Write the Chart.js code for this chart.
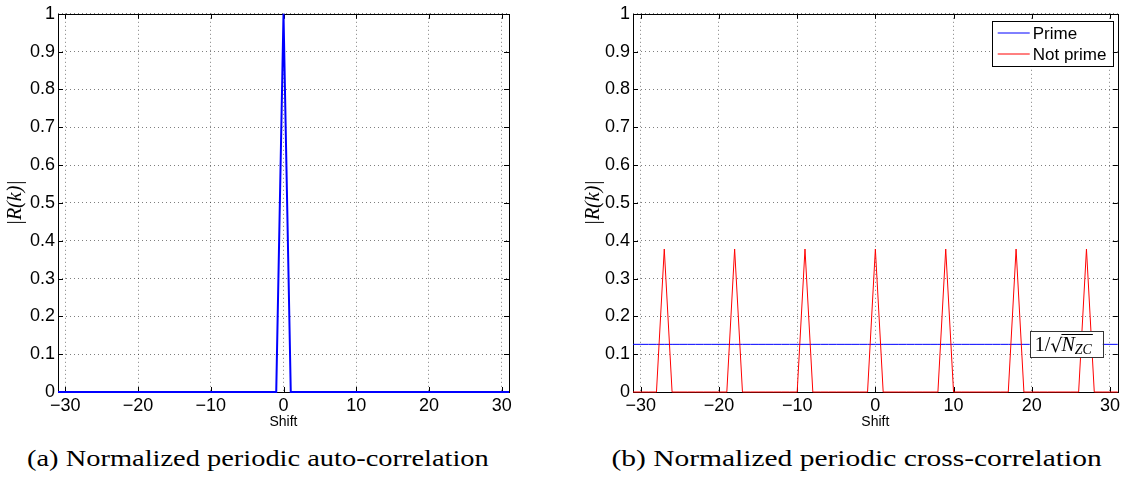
<!DOCTYPE html>
<html>
<head>
<meta charset="utf-8">
<script src="https://cdn.jsdelivr.net/npm/chart.js@4.4.1/dist/chart.umd.min.js"></script>
<style>
  body { margin: 0; background: #fff; width: 1123px; height: 483px; overflow: hidden; position: relative; }
  .plot { position: absolute; top: 0; }
  #wrapA { left: 0; width: 560px; height: 432px; }
  #wrapB { left: 560px; width: 563px; height: 432px; }
  .cap { position: absolute; top: 445px; font-family: "Liberation Serif", serif; font-size: 24px; line-height: 26px;
         white-space: nowrap; transform-origin: center; }
</style>
</head>
<body>
<div class="plot" id="wrapA"><canvas id="chartAuto" width="560" height="432"></canvas></div>
<div class="plot" id="wrapB"><canvas id="chartCross" width="563" height="432"></canvas></div>
<div class="cap" id="capA">(a) Normalized periodic auto-correlation</div>
<div class="cap" id="capB">(b) Normalized periodic cross-correlation</div>
<script>
// cyclic shifts k of the Zadoff-Chu sequence (N_ZC = 63)
const shifts = [
  -31, -30, -29, -28, -27, -26, -25, -24, -23, -22,
  -21, -20, -19, -18, -17, -16, -15, -14, -13, -12,
  -11, -10, -9, -8, -7, -6, -5, -4, -3, -2,
  -1, 0, 1,
  2, 3, 4, 5, 6, 7, 8, 9, 10, 11,
  12, 13, 14, 15, 16, 17, 18, 19, 20, 21,
  22, 23, 24, 25, 26, 27, 28, 29, 30, 31,
];

// |R(k)| auto-correlation
const autoCorr = [
  0, 0, 0, 0, 0, 0, 0, 0, 0, 0,
  0, 0, 0, 0, 0, 0, 0, 0, 0, 0,
  0, 0, 0, 0, 0, 0, 0, 0, 0, 0,
  0, 1, 0,
  0, 0, 0, 0, 0, 0, 0, 0, 0, 0,
  0, 0, 0, 0, 0, 0, 0, 0, 0, 0,
  0, 0, 0, 0, 0, 0, 0, 0, 0, 0,
];

// |R(k)| cross-correlation, prime length
const crossPrime = [
  0.126, 0.126, 0.126, 0.126, 0.126, 0.126, 0.126, 0.126, 0.126, 0.126,
  0.126, 0.126, 0.126, 0.126, 0.126, 0.126, 0.126, 0.126, 0.126, 0.126,
  0.126, 0.126, 0.126, 0.126, 0.126, 0.126, 0.126, 0.126, 0.126, 0.126,
  0.126, 0.126, 0.126,
  0.126, 0.126, 0.126, 0.126, 0.126, 0.126, 0.126, 0.126, 0.126, 0.126,
  0.126, 0.126, 0.126, 0.126, 0.126, 0.126, 0.126, 0.126, 0.126, 0.126,
  0.126, 0.126, 0.126, 0.126, 0.126, 0.126, 0.126, 0.126, 0.126, 0.126,
];

// |R(k)| cross-correlation, non-prime length
const crossNotPrime = [
  0, 0, 0, 0, 0.378, 0, 0, 0, 0, 0,
  0, 0, 0, 0.378, 0, 0, 0, 0, 0, 0,
  0, 0, 0.378, 0, 0, 0, 0, 0, 0, 0,
  0, 0.378, 0,
  0, 0, 0, 0, 0, 0, 0, 0.378, 0, 0,
  0, 0, 0, 0, 0, 0, 0.378, 0, 0, 0,
  0, 0, 0, 0, 0, 0.378, 0, 0, 0, 0,
];

const xTicks = [-30, -20, -10, 0, 10, 20, 30];
const yTicks = [0, 0.1, 0.2, 0.3, 0.4, 0.5, 0.6, 0.7, 0.8, 0.9, 1];
const seriesNames = ['Prime', 'Not prime'];

const BLUE = '#0000ff';
const RED = '#ff0000';
const GRID = 'rgba(0,0,0,0.5)';

Chart.defaults.font.family = '"Liberation Sans", Arial, sans-serif';
Chart.defaults.color = '#000';

const toPoints = (vals) => shifts.map((s, i) => ({ x: s, y: vals[i] }));
const withMinus = (v) => (v < 0 ? '\u2212' + Math.abs(v) : String(v));

// matlab style box with inward ticks
const frameBox = {
  id: 'frameBox',
  beforeDatasetsDraw(chart) {
    const { ctx, chartArea: a, scales: { x, y } } = chart;
    ctx.save();
    ctx.strokeStyle = '#000';
    ctx.lineWidth = 1;
    ctx.beginPath();
    x.ticks.forEach((t) => {
      const px = Math.round(x.getPixelForValue(t.value)) + 0.5;
      ctx.moveTo(px, a.bottom); ctx.lineTo(px, a.bottom - 5);
      ctx.moveTo(px, a.top); ctx.lineTo(px, a.top + 5);
    });
    y.ticks.forEach((t) => {
      const py = Math.round(y.getPixelForValue(t.value)) + 0.5;
      ctx.moveTo(a.left, py); ctx.lineTo(a.left + 5, py);
      ctx.moveTo(a.right, py); ctx.lineTo(a.right - 5, py);
    });
    ctx.stroke();
    ctx.strokeRect(Math.round(a.left) + 0.5, Math.round(a.top) + 0.5,
      Math.round(a.right - a.left), Math.round(a.bottom - a.top));
    ctx.restore();
  },
};

const legendBox = {
  id: 'legendBox',
  afterDatasetsDraw(chart) {
    const { ctx, chartArea: a } = chart;
    const w = 121, h = 45;
    const left = a.right - 5 - w, top = a.top + 7;
    ctx.save();
    ctx.fillStyle = '#fff';
    ctx.fillRect(left, top, w, h);
    ctx.strokeStyle = '#000';
    ctx.lineWidth = 1;
    ctx.strokeRect(Math.round(left) + 0.5, Math.round(top) + 0.5, w, h);
    ctx.font = '17px "Liberation Sans", Arial, sans-serif';
    ctx.textBaseline = 'middle';
    ctx.fillStyle = '#000';
    chart.data.datasets.forEach((ds, i) => {
      const cy = Math.round(top + 12 + i * 21);
      ctx.strokeStyle = ds.borderColor;
      ctx.beginPath();
      ctx.moveTo(left + 6, cy); ctx.lineTo(left + 38, cy);
      ctx.stroke();
      ctx.fillText(ds.label, left + 41, cy + 1);
    });
    ctx.restore();
  },
};

// boxed 1/sqrt(N_ZC) label sitting on the prime level
const zcLabel = {
  id: 'zcLabel',
  afterDatasetsDraw(chart) {
    const { ctx, chartArea: a, scales: { y } } = chart;
    const w = 73, h = 26;
    const left = a.right - 88;
    const cy = y.getPixelForValue(crossPrime[0]);
    const top = Math.round(cy - h / 2);
    ctx.save();
    ctx.fillStyle = '#fff';
    ctx.fillRect(left, top, w, h);
    ctx.strokeStyle = '#333';
    ctx.strokeRect(Math.round(left) + 0.5, top + 0.5, w, h);
    ctx.fillStyle = '#000';
    ctx.textBaseline = 'alphabetic';
    const base = top + 20;
    let x = left + 5;
    ctx.font = '20px "Liberation Serif", serif';
    ctx.fillText('1/', x, base);
    x += ctx.measureText('1/').width;
    ctx.font = '19px "DejaVu Serif", serif';
    ctx.fillText('\u221a', x, base + 1);
    x += ctx.measureText('\u221a').width - 1;
    const barStart = x;
    ctx.font = 'italic 20px "Liberation Serif", serif';
    ctx.fillText('N', x, base);
    x += ctx.measureText('N').width;
    ctx.font = 'italic 14px "Liberation Serif", serif';
    ctx.fillText('ZC', x, base + 3);
    x += ctx.measureText('ZC').width + 1;
    ctx.fillRect(barStart, top + 3, x - barStart, 1);
    ctx.restore();
  },
};

function axes(leftW, xH, yTitlePad) {
  return {
    x: {
      type: 'linear',
      min: -31,
      max: 31,
      afterBuildTicks: (s) => { s.ticks = xTicks.map((v) => ({ value: v })); },
      afterFit: (s) => { s.height = xH; },
      grid: { color: GRID, drawTicks: false },
      border: { display: false, dash: [1, 3] },
      ticks: { color: '#000', font: { size: 18 }, padding: 3, maxRotation: 0, autoSkip: false, callback: withMinus },
      title: { display: true, text: 'Shift', color: '#000', font: { size: 14 }, padding: { top: 0, bottom: 1 } },
    },
    y: {
      type: 'linear',
      min: 0,
      max: 1,
      afterBuildTicks: (s) => { s.ticks = yTicks.map((v) => ({ value: v })); },
      afterFit: (s) => { s.width = leftW; },
      grid: { color: GRID, drawTicks: false },
      border: { display: false, dash: [1, 3] },
      ticks: { color: '#000', font: { size: 18 }, padding: 3, autoSkip: false, callback: (v) => String(v) },
      title: {
        display: true, text: '|R(k)|', color: '#000',
        font: { family: '"Liberation Serif", serif', style: 'italic', size: 20 },
        padding: { top: yTitlePad, bottom: 0 },
      },
    },
  };
}

const common = {
  responsive: false,
  animation: false,
  events: [],
  plugins: { legend: { display: false }, tooltip: { enabled: false } },
};

new Chart(document.getElementById('chartAuto'), {
  type: 'line',
  data: {
    datasets: [{
      label: 'auto',
      data: toPoints(autoCorr),
      borderColor: BLUE,
      borderWidth: 2,
      pointRadius: 0,
      clip: false,
    }],
  },
  options: {
    ...common,
    layout: { padding: { top: 10, right: 51, left: 0, bottom: 0 } },
    scales: axes(58, 40, 4),
  },
  plugins: [frameBox],
});

new Chart(document.getElementById('chartCross'), {
  type: 'line',
  data: {
    datasets: [
      { label: seriesNames[0], data: toPoints(crossPrime), borderColor: BLUE, borderWidth: 1, pointRadius: 0, order: 1, clip: false },
      { label: seriesNames[1], data: toPoints(crossNotPrime), borderColor: RED, borderWidth: 1, pointRadius: 0, order: 0, clip: false },
    ],
  },
  options: {
    ...common,
    layout: { padding: { top: 10, right: 5, left: 0, bottom: 0 } },
    scales: axes(73, 40, 22),
  },
  plugins: [frameBox, legendBox, zcLabel],
});

// captions: stretch the serif text to the width of the original captions
function placeCaption(id, center, width) {
  const el = document.getElementById(id);
  const w = el.offsetWidth;
  el.style.left = (center - w / 2) + 'px';
  el.style.transform = 'scaleX(' + (width / w) + ')';
}
placeCaption('capA', 258, 462);
placeCaption('capB', 856, 490);
</script>
</body>
</html>
